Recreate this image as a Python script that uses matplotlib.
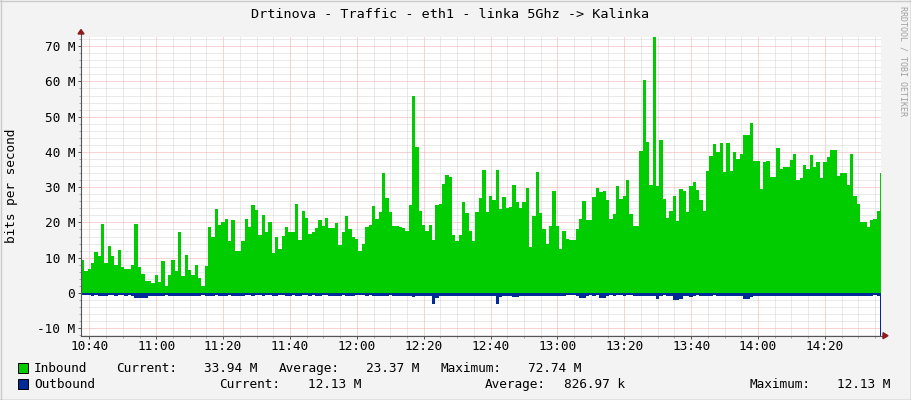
import numpy as np
import matplotlib
matplotlib.use("Agg")
import matplotlib.pyplot as plt
from matplotlib.ticker import MultipleLocator, FuncFormatter
from matplotlib.patches import Polygon, Rectangle
from matplotlib.lines import Line2D

plt.rcParams['font.family'] = ['DejaVu Sans Mono', 'DejaVu Sans']
plt.rcParams['lines.scale_dashes'] = False

TITLE = "Drtinova - Traffic - eth1 - linka 5Ghz -> Kalinka"
Y_LABEL = "bits per second"
WATERMARK = "RRDTOOL / TOBI OETIKER"

# time axis (minutes since midnight), 1-minute samples
START_MIN = 10 * 60 + 37.5
STEP_MIN = 1.0
VIEW_END_MIN = 14 * 60 + 36.8

# Inbound traffic, Mbit/s
inbound_1 = [9.4, 6.1, 6.8, 8.5, 11.6, 10.6, 19.5, 8.5, 13.4, 10.6,
             7.8, 12.3, 7.3, 6.8, 6.8, 8.0, 19.5, 7.3, 5.5, 3.5,
             3.5, 2.8, 5.2, 3.0, 9.2, 2.1, 5.2, 9.4, 6.3, 17.4,
             4.7, 10.8, 6.6, 5.2, 8.0, 4.2, 1.9, 7.7, 18.7, 15.8,
             23.9, 19.3, 20.0, 20.9, 14.6, 20.6, 11.8, 11.8, 14.8]
inbound_2 = [20.9, 18.6, 25.0, 23.5, 16.3, 22.2, 17.2, 20.2, 11.4, 16.0,
             12.5, 16.2, 18.6, 17.2, 17.2, 25.3, 15.1, 23.3, 21.2, 16.7,
             17.2, 18.4, 20.8, 18.9, 21.2, 18.3, 18.3, 19.8, 13.5, 17.4,
             21.7, 18.2, 16.0, 15.3, 11.8, 13.9, 18.7, 19.2, 24.7, 21.1,
             23.1, 34.0, 26.9, 23.0, 18.9, 18.9, 18.6, 18.4]
inbound_3 = [17.5, 25.0, 55.9, 41.5, 23.3, 19.2, 17.5, 19.2, 15.1, 25.0,
             25.3, 30.9, 33.5, 33.0, 16.5, 14.6, 16.4, 25.8, 22.8, 17.6,
             14.8, 23.0, 26.9, 34.9, 23.0, 27.5, 26.4, 34.9, 23.9, 27.2,
             24.1, 24.3, 30.6, 25.8, 24.0, 25.8, 29.7, 13.0, 21.7, 34.4,
             22.6, 18.2, 14.0, 18.9, 29.0, 19.1, 12.5, 17.7]
inbound_4 = [15.4, 15.1, 15.1, 18.0, 21.1, 26.2, 20.8, 20.8, 27.1, 29.8,
             28.5, 29.0, 26.5, 21.1, 22.5, 30.2, 26.7, 27.4, 32.1, 22.5,
             18.9, 19.1, 40.4, 60.4, 42.8, 30.7, 72.74, 30.2, 43.4, 26.7,
             21.3, 23.3, 27.4, 20.3, 29.6, 28.8, 22.9, 30.2, 31.4, 29.3,
             26.5, 23.2, 34.7, 38.9, 42.3, 39.9, 42.5, 34.2]
inbound_5 = [42.6, 34.7, 40.1, 37.9, 39.4, 44.8, 44.8, 48.3, 37.5, 37.5,
             29.4, 37.0, 37.3, 33.0, 33.0, 41.0, 35.2, 35.6, 35.6, 37.7,
             39.4, 31.9, 32.5, 36.3, 35.2, 39.2, 35.8, 37.1, 32.7, 37.1,
             38.7, 40.6, 40.6, 33.3, 34.0, 34.0, 30.5, 39.4, 27.5, 25.3,
             20.0, 20.0, 18.7, 20.6, 20.9, 23.3, 33.94]

# Outbound traffic, Mbit/s (drawn below zero)
outbound_1 = [0.6, 0.7, 0.7, 0.8, 0.7, 1.0, 1.0, 0.8, 0.7, 0.7,
              0.8, 0.7, 0.7, 0.8, 0.7, 0.8, 1.4, 1.5, 1.5, 1.3,
              0.9, 0.8, 1.0, 0.8, 1.0, 0.7, 0.8, 1.0, 0.9, 0.8,
              0.9, 0.8, 0.9, 0.9, 0.8, 0.8, 0.7, 0.9, 0.8, 0.8,
              0.7, 0.8, 0.8, 0.9, 0.7, 0.8, 1.0, 0.8, 0.8]
outbound_2 = [0.7, 0.7, 0.8, 0.7, 0.7, 0.8, 0.7, 0.7, 0.8, 0.9,
              0.7, 0.7, 1.0, 0.8, 0.7, 1.0, 0.8, 0.7, 0.7, 0.8,
              0.7, 0.8, 0.9, 0.7, 0.7, 0.8, 0.8, 0.9, 0.8, 0.7,
              0.8, 0.8, 0.8, 0.7, 0.7, 0.7, 0.8, 0.7, 0.9, 0.8,
              0.8, 1.0, 0.8, 0.7, 0.8, 0.8, 1.0, 0.8]
outbound_3 = [0.8, 0.9, 1.1, 1.0, 0.8, 0.8, 0.9, 0.9, 3.0, 1.3,
              0.9, 0.9, 0.9, 0.8, 0.9, 0.9, 0.8, 0.8, 0.9, 0.8,
              0.9, 0.8, 1.0, 0.9, 0.9, 0.8, 1.0, 3.0, 1.1, 0.9,
              0.9, 1.0, 1.1, 1.1, 1.0, 0.9, 0.9, 0.8, 0.8, 0.8,
              0.9, 0.8, 0.8, 0.9, 1.0, 1.0, 0.8, 0.8]
outbound_4 = [0.7, 0.7, 0.7, 0.8, 1.5, 1.4, 0.8, 0.7, 0.8, 0.7,
              1.5, 1.5, 0.8, 0.7, 0.8, 0.7, 0.7, 0.8, 0.7, 0.7,
              0.8, 0.9, 1.0, 1.0, 0.8, 0.8, 0.9, 1.6, 0.8, 0.7,
              0.8, 0.8, 2.0, 2.0, 1.6, 0.8, 0.8, 1.2, 0.8, 0.7,
              0.8, 0.8, 0.8, 0.8, 0.7, 0.8, 0.8, 0.8]
outbound_5 = [0.9, 0.9, 0.9, 0.9, 0.9, 1.6, 1.6, 1.2, 0.9, 0.9,
              1.0, 0.9, 0.9, 0.9, 0.9, 1.0, 0.9, 0.9, 0.9, 0.9,
              1.0, 0.9, 0.9, 0.9, 1.0, 0.9, 0.9, 0.9, 0.9, 0.9,
              0.9, 0.9, 0.9, 1.0, 0.9, 0.9, 0.9, 1.0, 0.9, 0.9,
              0.9, 1.0, 0.8, 0.8, 0.7, 0.8, 12.13]

Y_MAX = 72.74
Y_MIN = -12.13

legend_row1 = [("Inbound", 34), ("Current:", 116), ("33.94 M", 204.5),
               ("Average:", 279), ("23.37 M", 366), ("Maximum:", 440.5), ("72.74 M", 527.5)]
legend_row2 = [("Outbound", 34), ("Current:", 219.6), ("12.13 M", 308),
               ("Average:", 485), ("826.97 k", 563.6), ("Maximum:", 749.5), ("12.13 M", 836.6)]

GREEN = '#00CC00'
BLUE = '#002A97'
BG = '#F3F3F3'
MINOR_GRID = '#D4D4D4'
MAJOR_GRID = '#F2A8A8'
AXIS_COL = '#555555'
ARROW_COL = '#8E1B1B'

inbound = np.array(inbound_1 + inbound_2 + inbound_3 + inbound_4 + inbound_5)
outbound = np.array(outbound_1 + outbound_2 + outbound_3 + outbound_4 + outbound_5)
edges = START_MIN + STEP_MIN * np.arange(len(inbound) + 1)

W, H = 911, 400
fig = plt.figure(figsize=(W / 100, H / 100), dpi=100, facecolor=BG)
L, R, T, B = 81, 881, 36.5, 335.7
ax = fig.add_axes([L / W, 1 - B / H, (R - L) / W, (B - T) / H])
ax.set_facecolor('white')

ax.stairs(inbound, edges, fill=True, baseline=0, color=GREEN, lw=0, zorder=2)
ax.stairs(-outbound, edges, fill=True, baseline=0, color=BLUE, lw=0, zorder=2)

ax.set_xlim(START_MIN, VIEW_END_MIN)
ax.set_ylim(Y_MIN, Y_MAX)

ax.xaxis.set_major_locator(MultipleLocator(20))
ax.xaxis.set_minor_locator(MultipleLocator(5))
ax.yaxis.set_major_locator(MultipleLocator(10))
ax.yaxis.set_minor_locator(MultipleLocator(2))
ax.xaxis.set_major_formatter(FuncFormatter(lambda v, p: f"{int(v // 60):02d}:{int(round(v % 60)):02d}"))
ax.yaxis.set_major_formatter(FuncFormatter(lambda v, p: "0" if abs(v) < 1e-9 else f"{v:.0f} M"))

ax.set_axisbelow(True)
dots = (0, (0.72, 0.72))
ax.grid(which='minor', color=MINOR_GRID, linestyle=dots, lw=0.72)
ax.grid(which='major', color=MAJOR_GRID, linestyle=dots, lw=0.72)

for s in ax.spines.values():
    s.set_visible(False)

ax.tick_params(axis='both', which='major', direction='out', length=2.2, width=0.72,
               color=AXIS_COL, labelsize=9.2, pad=2.0)
ax.tick_params(axis='both', which='minor', direction='out', length=1.2, width=0.72,
               color='#AAAAAA')
ax.tick_params(axis='x', which='major', pad=1.0)

# axis lines with arrows
aw, ah = (R - L), (B - T)
ax.add_line(Line2D([0, 0], [0, 1 + 3 / ah], color=AXIS_COL, lw=0.8,
                   transform=ax.transAxes, clip_on=False, zorder=5))
ax.add_line(Line2D([0, 1 + 3 / aw], [0, 0], color=AXIS_COL, lw=0.8,
                   transform=ax.transAxes, clip_on=False, zorder=5))
ax.add_patch(Polygon([[-3 / aw, 1 + 2.5 / ah], [3 / aw, 1 + 2.5 / ah], [0, 1 + 7 / ah]],
                     closed=True, color=ARROW_COL, transform=ax.transAxes, clip_on=False, zorder=6))
ax.add_patch(Polygon([[1 + 2 / aw, -3 / ah], [1 + 2 / aw, 3 / ah], [1 + 7 / aw, 0]],
                     closed=True, color=ARROW_COL, transform=ax.transAxes, clip_on=False, zorder=6))

# title, labels, watermark
fig.text(450.5 / W, 1 - 14 / H, TITLE, ha='center', va='center', fontsize=9.7)
fig.text(12 / W, 1 - 186 / H, Y_LABEL, ha='center', va='center', rotation=90, fontsize=9.2)
fig.text(902.7 / W, 1 - 60.5 / H, WATERMARK, ha='center', va='center', rotation=270,
         fontsize=6, color='#A0A0A0')

# legend
for row, ycen, col in ((legend_row1, 368.3, GREEN), (legend_row2, 384.3, BLUE)):
    fig.add_artist(Rectangle((17.5 / W, 1 - (ycen + 5) / H), 10 / W, 10 / H,
                             facecolor=col, edgecolor='black', lw=0.7,
                             transform=fig.transFigure))
    for txt, x in row:
        fig.text(x / W, 1 - ycen / H, txt, ha='left', va='center', fontsize=9.2)

# 3D border
fig.add_artist(Line2D([0, 1], [1 - 0.5 / H, 1 - 0.5 / H], color='#CBCBCB', lw=1, transform=fig.transFigure))
fig.add_artist(Line2D([0.5 / W, 0.5 / W], [0, 1], color='#CBCBCB', lw=1, transform=fig.transFigure))
fig.add_artist(Line2D([0, 1], [0.5 / H, 0.5 / H], color='#999999', lw=1, transform=fig.transFigure))
fig.add_artist(Line2D([1 - 0.5 / W, 1 - 0.5 / W], [0, 1], color='#999999', lw=1, transform=fig.transFigure))

fig.savefig('out.png', dpi=100, facecolor=BG)
